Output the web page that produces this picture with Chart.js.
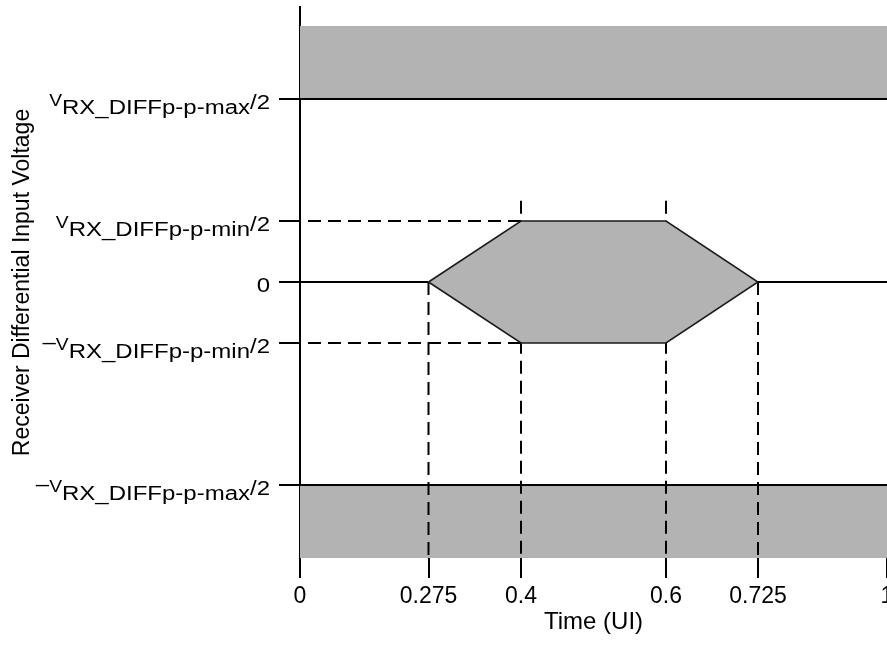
<!DOCTYPE html>
<html>
<head>
<meta charset="utf-8">
<title>Receiver eye mask</title>
<script src="https://cdn.jsdelivr.net/npm/chart.js@4.4.1/dist/chart.umd.min.js"></script>
<style>
  html, body { margin: 0; padding: 0; overflow: hidden; background: #fff; }
  #wrap { width: 905px; height: 647px; }
</style>
</head>
<body>
<div id="wrap"><canvas id="eyeChart"></canvas></div>
<script>
// time axis (UI)
const timeTicks = [0, 0.275, 0.4, 0.6, 0.725, 1];
// symbolic voltage levels: Vmax/2, Vmin/2, 0, -Vmin/2, -Vmax/2
const voltTicks = [3, 1, 0, -1, -3];
const voltTickLabels = [
    ['', 'V', 'RX_DIFFp-p-max', '/2'],
    ['', 'V', 'RX_DIFFp-p-min', '/2'],
    ['0'],
    ['\u2013', 'V', 'RX_DIFFp-p-min', '/2'],
    ['\u2013', 'V', 'RX_DIFFp-p-max', '/2']
];

// eye opening
const eyeTime = [0.275, 0.4, 0.6, 0.725, 0.6, 0.4, 0.275];
const eyeVolt = [0, 1, 1, 0, -1, -1, 0];

// forbidden bands beyond +/-Vmax/2
const bandInner = [3, -3];
const bandOuter = [4, -4];

// zero line outside the eye
const zeroLeft = [0, 0.275];
const zeroRight = [0.725, 1];

// dashed guides
const guideTimes = [0.275, 0.4, 0.6, 0.725];
const guideTops = [0, 1.33, 1.33, 0];
const guideLevels = [1, -1];

// the drawing is not to scale: relative length of each piece between breaks
const timeBreaks = [0, 0.275, 0.4, 0.6, 0.725, 1];
const timeSpans = [128.5, 92.5, 145, 92, 129];
const voltBreaks = [-4, -3, -1, 0, 1, 3, 4, 5];
const voltSpans = [73, 142, 61, 61, 122, 73, 19];
const scalePieces = { x: [timeBreaks, timeSpans], y: [voltBreaks, voltSpans] };

class PiecewiseScale extends Chart.LinearScale {
    configure() {
        super.configure();
        const [breaks, spans] = scalePieces[this.id];
        this._breaks = breaks;
        this._cum = [0];
        spans.forEach(s => this._cum.push(this._cum[this._cum.length - 1] + s));
    }
    getPixelForValue(value) {
        if (value === null || value === undefined || isNaN(value)) return NaN;
        const b = this._breaks, c = this._cum;
        let i = 0;
        while (i < b.length - 2 && value > b[i + 1]) i++;
        const pos = c[i] + (value - b[i]) / (b[i + 1] - b[i]) * (c[i + 1] - c[i]);
        return this.getPixelForDecimal(pos / c[c.length - 1]);
    }
    getValueForPixel(pixel) {
        const b = this._breaks, c = this._cum;
        const pos = this.getDecimalForPixel(pixel) * c[c.length - 1];
        let i = 0;
        while (i < c.length - 2 && pos > c[i + 1]) i++;
        return b[i] + (pos - c[i]) / (c[i + 1] - c[i]) * (b[i + 1] - b[i]);
    }
}
PiecewiseScale.id = 'piecewise';
PiecewiseScale.defaults = Chart.LinearScale.defaults;
Chart.register(PiecewiseScale);

Chart.defaults.font.family = '"Liberation Sans", Arial, sans-serif';

const black = '#000';
const grey = 'rgb(179,179,179)';
const pts = (xs, ys) => xs.map((x, i) => ({ x: x, y: ys[i] }));
const tStart = timeTicks[0], tEnd = timeTicks[timeTicks.length - 1];

const datasets = [];
bandOuter.forEach((edge, i) => {
    datasets.push({ data: pts([tStart, tEnd], [edge, edge]), borderWidth: 0,
        backgroundColor: grey, fill: { value: bandInner[i] }, order: 6 });
    datasets.push({ data: pts([tStart, tEnd], [bandInner[i], bandInner[i]]),
        borderColor: black, borderWidth: 2, fill: false, order: 5 });
});
guideLevels.forEach(v => {
    datasets.push({ data: pts([eyeTime[1], tStart], [v, v]), borderColor: black,
        borderWidth: 2, borderDash: [13, 7], fill: false, order: 4 });
});
guideTimes.forEach((t, i) => {
    datasets.push({ data: pts([t, t], [guideTops[i], bandOuter[1]]), borderColor: black,
        borderWidth: 2, borderDash: [13, 7], fill: false, order: 4 });
});
datasets.push({ data: pts(eyeTime, eyeVolt), borderColor: '#1a1a1a', borderWidth: 1.5,
    backgroundColor: grey, fill: 'shape', order: 3 });
[zeroLeft, zeroRight].forEach(xs => {
    datasets.push({ data: pts(xs, [0, 0]), borderColor: black, borderWidth: 2, fill: false, order: 2 });
});

// y tick labels need raised V and /2, so they are drawn here
const labelStretch = 1.2;
const partStyle = {
    sign: { size: 20, dy: 6 },
    v: { size: 16, dy: 6.5 },
    sub: { size: 20, dy: 15 },
    tail: { size: 20, dy: 10 },
    plain: { size: 20, dy: 10 }
};
const voltLabelPlugin = {
    id: 'voltLabels',
    afterDraw(chart) {
        const ctx = chart.ctx, yScale = chart.scales.y;
        const right = yScale.right - 30;
        ctx.save();
        ctx.fillStyle = black;
        ctx.textAlign = 'left';
        ctx.textBaseline = 'alphabetic';
        voltTicks.forEach((v, i) => {
            const py = yScale.getPixelForValue(v);
            const parts = voltTickLabels[i];
            const roles = parts.length === 1 ? ['plain'] : ['sign', 'v', 'sub', 'tail'];
            let x = right;
            for (let k = parts.length - 1; k >= 0; k--) {
                if (!parts[k]) continue;
                const st = partStyle[roles[k]];
                ctx.font = st.size + 'px "Liberation Sans", Arial, sans-serif';
                const w = ctx.measureText(parts[k]).width * labelStretch;
                x -= w;
                ctx.save();
                ctx.translate(x, py + st.dy);
                ctx.scale(labelStretch, 1);
                ctx.fillText(parts[k], 0, 0);
                ctx.restore();
            }
        });
        ctx.restore();
    }
};

new Chart(document.getElementById('eyeChart'), {
    type: 'line',
    data: { datasets: datasets },
    options: {
        animation: false,
        responsive: true,
        maintainAspectRatio: false,
        events: [],
        layout: { padding: { top: 7, right: 18, left: 0, bottom: 0 } },
        elements: { point: { radius: 0 }, line: { tension: 0 } },
        plugins: { legend: { display: false }, tooltip: { enabled: false } },
        scales: {
            x: {
                type: 'piecewise',
                min: tStart,
                max: tEnd,
                afterFit: s => { s.height = 89; },
                afterBuildTicks: s => { s.ticks = timeTicks.map(value => ({ value })); },
                border: { display: false },
                grid: { drawOnChartArea: false, color: black, lineWidth: 2, tickLength: 20 },
                ticks: { autoSkip: false, maxRotation: 0, padding: 5, color: black,
                    font: { size: 23 }, callback: v => String(v) },
                title: { display: true, text: 'Time (UI)', color: black, font: { size: 24 },
                    padding: { top: 0, bottom: 10 } }
            },
            y: {
                type: 'piecewise',
                min: voltBreaks[0],
                max: voltBreaks[voltBreaks.length - 1],
                afterFit: s => { s.width = 300; },
                afterBuildTicks: s => { s.ticks = voltTicks.map(value => ({ value })); },
                border: { display: true, color: black, width: 2 },
                grid: { drawOnChartArea: false, color: black, lineWidth: 2, tickLength: 21 },
                ticks: { display: false },
                title: { display: true, text: 'Receiver Differential Input Voltage', color: black,
                    font: { size: 23 }, padding: { top: 9, bottom: 0 } }
            }
        }
    },
    plugins: [voltLabelPlugin]
});
</script>
</body>
</html>
